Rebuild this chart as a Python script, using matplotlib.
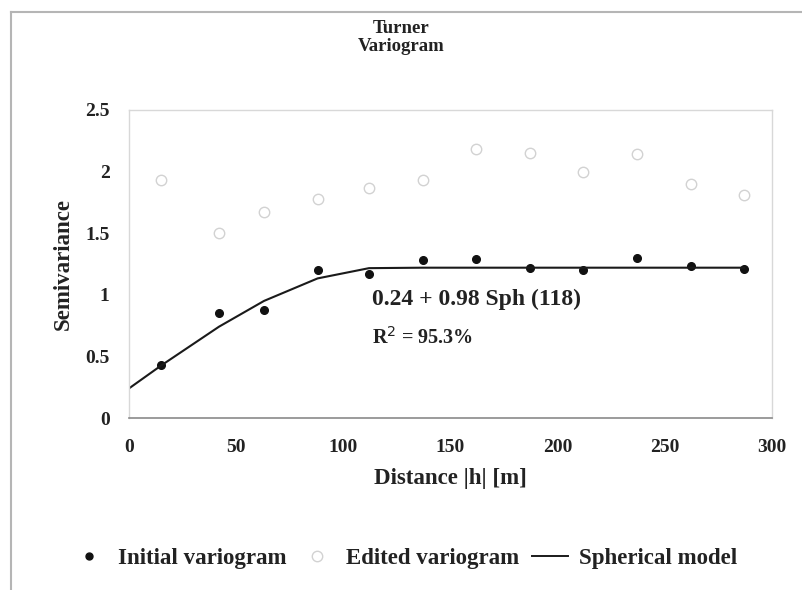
import matplotlib
matplotlib.use("Agg")
import matplotlib.pyplot as plt
import numpy as np
from matplotlib.lines import Line2D

plt.rcParams['font.family'] = ['Liberation Serif', 'DejaVu Serif']

# lag distances |h| [m]
lags = [15, 42, 63, 88, 112, 137, 162, 187, 212, 237, 262, 287]
initial = [0.43, 0.85, 0.88, 1.20, 1.17, 1.28, 1.29, 1.22, 1.20, 1.30, 1.23, 1.21]
edited = [1.93, 1.50, 1.67, 1.78, 1.87, 1.93, 2.18, 2.15, 2.00, 2.14, 1.90, 1.81]

# spherical model: nugget + sill * Sph(range)
nugget, sill, rng = 0.24, 0.98, 118
r2 = 95.3

def sph(h):
    h = np.asarray(h, dtype=float)
    t = np.minimum(h / rng, 1.0)
    return nugget + sill * (1.5 * t - 0.5 * t ** 3)

h_model = np.array([0] + lags)
g_model = sph(h_model)

ink = '#222222'

fig = plt.figure(figsize=(8.03, 5.90), dpi=100)
ax = fig.add_axes([0.1606, 0.2915, 0.8008, 0.5221])

ax.plot(lags, edited, linestyle='none', marker='o', markersize=7.5,
        markerfacecolor='none', markeredgecolor='#d2d2d2', markeredgewidth=1.0)
ax.plot(lags, initial, linestyle='none', marker='o', markersize=5.5,
        color='#111111')
ax.plot(h_model, g_model, color='#1a1a1a', linewidth=1.5)

ax.set_xlim(0, 300)
ax.set_ylim(0, 2.5)
ax.set_xticks(range(0, 301, 50))
ax.set_yticks([0, 0.5, 1, 1.5, 2, 2.5])
ax.set_yticklabels(['0', '0.5', '1', '1.5', '2', '2.5'])
ax.tick_params(length=0, labelsize=14, colors=ink)
ax.tick_params(axis='x', pad=15)
ax.tick_params(axis='y', pad=14)
for lab in ax.get_xticklabels() + ax.get_yticklabels():
    lab.set_fontweight('bold')

for s in ['left', 'top', 'right']:
    ax.spines[s].set_color('#d8d8d8')
    ax.spines[s].set_linewidth(1.0)
ax.spines['bottom'].set_color('#8a8a8a')
ax.spines['bottom'].set_linewidth(1.2)

ax.set_xlabel('Distance |h| [m]', fontsize=16.5, fontweight='bold',
              color=ink, labelpad=9)
ax.set_ylabel('Semivariance', fontsize=16.5, fontweight='bold',
              color=ink, labelpad=8)

ax.text(113.5, 0.96, '%.2f + %.2f Sph (%d)' % (nugget, sill, rng),
        fontsize=17, fontweight='bold', color=ink, va='center')
ax.text(113.5, 0.65, 'R$^2$ = %.1f%%' % r2,
        fontsize=14.5, fontweight='bold', color=ink, va='center')

fig.text(0.5, 0.952, 'Turner', ha='center', va='center', fontsize=13.5,
         fontweight='bold', color=ink)
fig.text(0.5, 0.921, 'Variogram', ha='center', va='center', fontsize=13.5,
         fontweight='bold', color=ink)

handles = [
    Line2D([], [], linestyle='none', marker='o', markersize=5, color='#111111'),
    Line2D([], [], linestyle='none', marker='o', markersize=7.5,
           markerfacecolor='none', markeredgecolor='#d2d2d2'),
    Line2D([], [], color='#1a1a1a', linewidth=1.4),
]
fig.legend(handles, ['Initial variogram', 'Edited variogram', 'Spherical model'],
           loc='center', bbox_to_anchor=(0.503, 0.054), ncol=3, frameon=False,
           prop={'size': 16.5, 'weight': 'bold'}, handlelength=1.6,
           handletextpad=0.45, columnspacing=0.55, labelcolor=ink)

# outer chart border
fig.add_artist(Line2D([0.0137, 1.0], [0.980, 0.980], color='#b5b5b5', linewidth=1.5))
fig.add_artist(Line2D([0.0137, 0.0137], [0.0, 0.980], color='#b5b5b5', linewidth=1.5))

fig.savefig('out.png', dpi=100)
